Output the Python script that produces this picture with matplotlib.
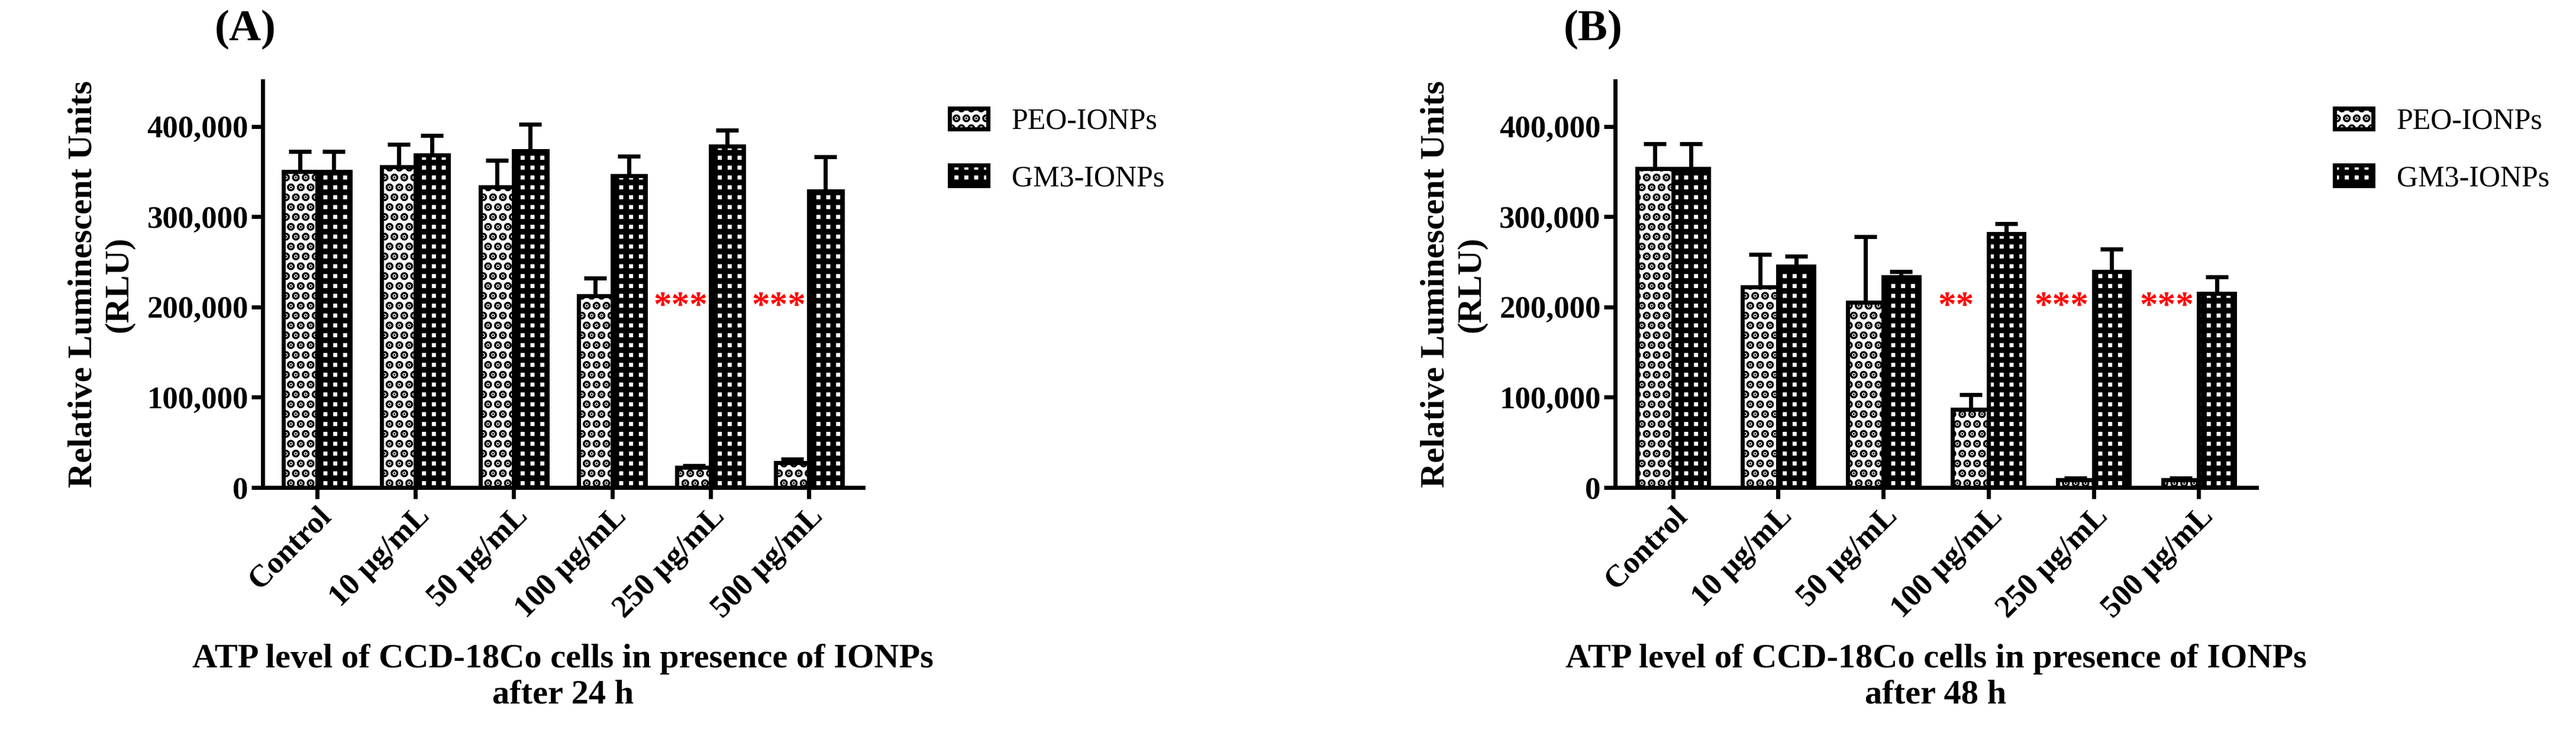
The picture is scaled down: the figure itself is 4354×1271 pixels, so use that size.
import matplotlib.pyplot as plt
import numpy as np

plt.rcParams['font.family'] = ['Liberation Serif', 'DejaVu Serif']
plt.rcParams['font.weight'] = 'bold'
plt.rcParams['hatch.linewidth'] = 7.0

categories = ['Control', '10 µg/mL', '50 µg/mL', '100 µg/mL', '250 µg/mL', '500 µg/mL']

peo_24 = [350000, 355000, 333000, 212000, 22000, 27000]
peo_24_err = [22000, 25000, 29000, 20000, 2000, 4000]
gm3_24 = [350000, 368000, 373000, 345000, 378000, 328000]
gm3_24_err = [22000, 22000, 29000, 22000, 18000, 38000]
stars_24 = ['', '', '', '', '***', '***']

peo_48 = [353000, 222000, 205000, 86000, 8000, 8000]
peo_48_err = [28000, 36000, 73000, 17000, 2000, 2000]
gm3_48 = [353000, 245000, 233000, 281000, 239000, 215000]
gm3_48_err = [28000, 11000, 6000, 11000, 25000, 18000]
stars_48 = ['', '', '', '**', '***', '***']

fig = plt.figure(figsize=(43.54, 12.71), dpi=100)


def panel(rect, peo, peo_err, gm3, gm3_err, stars, letter, xlabel, leg_x):
    ax = fig.add_axes(rect)
    x = np.arange(len(categories))
    w = 0.34
    ax.bar(x - w / 2, peo, w, yerr=[np.zeros(6), peo_err], color='white', edgecolor='black',
           hatch='.', linewidth=5, capsize=14, error_kw=dict(elinewidth=5, capthick=5),
           label='PEO-IONPs')
    ax.bar(x + w / 2, gm3, w, yerr=[np.zeros(6), gm3_err], color='white', edgecolor='black',
           hatch='+', linewidth=5, capsize=14, error_kw=dict(elinewidth=5, capthick=5),
           label='GM3-IONPs')
    for i, s in enumerate(stars):
        if s:
            ax.text(x[i] - w * 0.9, 200000, s, color='red', ha='center', va='center', fontsize=44)
    ax.set_ylim(0, 450000)
    ax.set_xlim(-0.55, 5.55)
    ax.set_yticks([0, 100000, 200000, 300000, 400000])
    ax.set_yticklabels(['0', '100,000', '200,000', '300,000', '400,000'])
    ax.set_xticks(x)
    ax.set_xticklabels(categories, rotation=45, ha='right', rotation_mode='anchor')
    ax.tick_params(labelsize=38, width=5, length=14)
    for side in ['top', 'right']:
        ax.spines[side].set_visible(False)
    for side in ['left', 'bottom']:
        ax.spines[side].set_linewidth(5)
    ax.set_ylabel('Relative Luminescent Units\n(RLU)', fontsize=42, fontweight='bold', labelpad=15)
    ax.set_xlabel(xlabel, fontsize=42, fontweight='bold', labelpad=25)
    ax.text(-0.08, 1.1, letter, transform=ax.transAxes, fontsize=54, fontweight='bold')
    ax.legend(loc='upper left', bbox_to_anchor=(leg_x, 1.0), frameon=False,
              prop={'weight': 'normal', 'size': 36}, handlelength=1.3, labelspacing=1.0)
    return ax


panel([0.102, 0.352, 0.233, 0.54], peo_24, peo_24_err, gm3_24, gm3_24_err, stars_24, '(A)',
      'ATP level of CCD-18Co cells in presence of IONPs\nafter 24 h', 1.1)
panel([0.627, 0.352, 0.249, 0.54], peo_48, peo_48_err, gm3_48, gm3_48_err, stars_48, '(B)',
      'ATP level of CCD-18Co cells in presence of IONPs\nafter 48 h', 1.08)

fig.savefig('out.png', dpi=100)
